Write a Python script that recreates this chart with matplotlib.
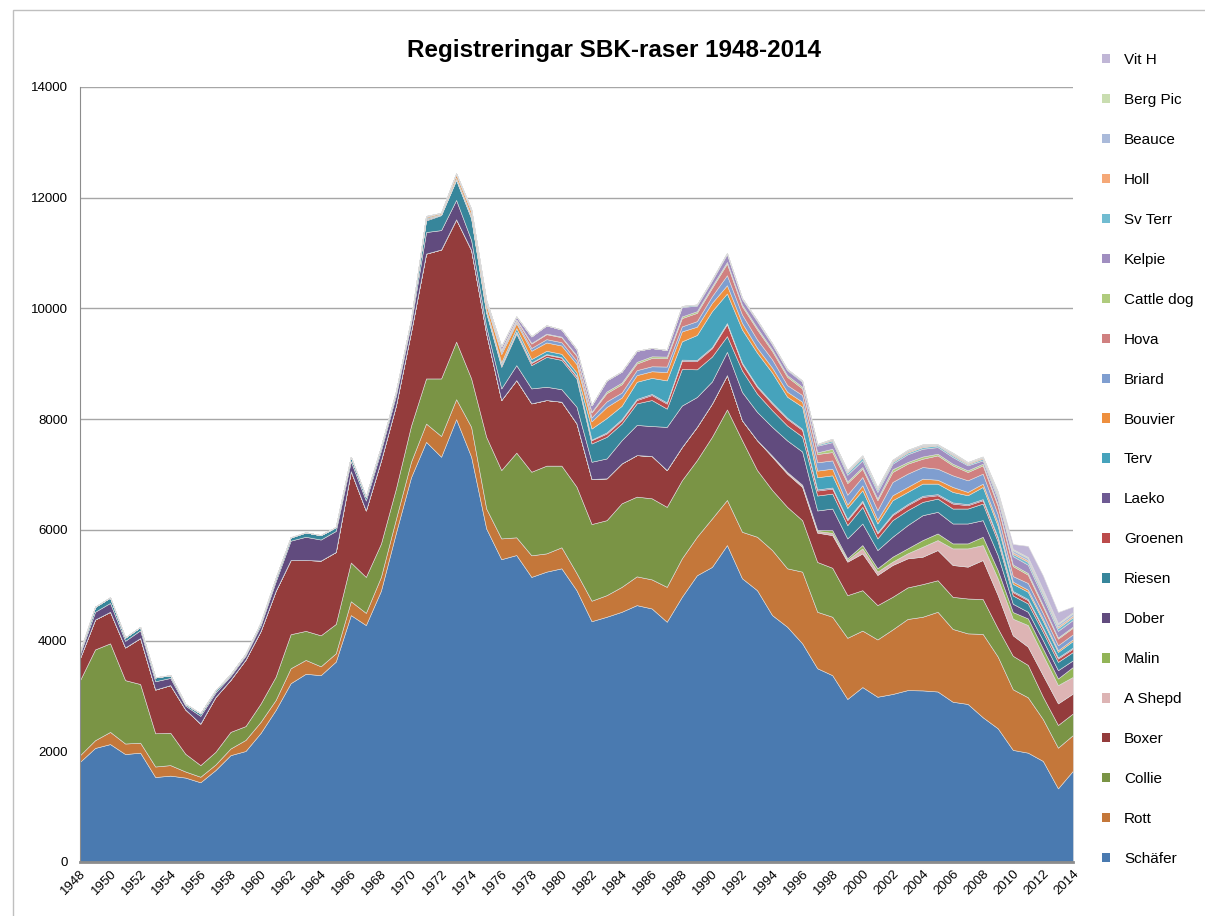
import matplotlib
matplotlib.use('Agg')
import matplotlib.pyplot as plt
from matplotlib.patches import Patch, Rectangle
import numpy as np

plt.rcParams['font.family'] = ['Liberation Sans', 'DejaVu Sans']

years = list(range(1948, 2015))

schafer = [1810, 2060, 2130, 1950, 1975, 1535, 1560, 1525, 1440, 1660, 1930, 2005, 2330, 2745, 3230, 3400, 3375, 3620, 4460, 4280,
           4900, 5950, 6950, 7590, 7320, 8000, 7320, 6025, 5470, 5545, 5150, 5245, 5305, 4910, 4350, 4430, 4520, 4640, 4580, 4340,
           4790, 5180, 5330, 5725, 5125, 4910, 4460, 4250, 3950, 3500, 3375, 2945, 3160, 2985, 3035, 3105, 3100, 3080, 2895, 2855,
           2615, 2415, 2025, 1975, 1825, 1330, 1650]
rott = [120, 140, 220, 190, 180, 190, 190, 110, 100, 100, 120, 200, 200, 180, 270, 250, 160, 150, 250, 220,
        250, 250, 280, 330, 375, 360, 540, 360, 375, 320, 390, 330, 380, 310, 370, 390, 450, 520, 525, 630,
        695, 695, 875, 815, 840, 965, 1175, 1055, 1295, 1020, 1055, 1105, 1020, 1035, 1165, 1285, 1330, 1440, 1315, 1275,
        1505, 1295, 1095, 1000, 755, 735, 645]
collie = [1355, 1640, 1600, 1145, 1060, 600, 585, 320, 210, 230, 300, 250, 330, 420, 615, 525, 560, 530, 700, 650,
          600, 550, 650, 815, 1040, 1040, 875, 1295, 1235, 1530, 1510, 1585, 1475, 1560, 1385, 1355, 1510, 1440, 1465, 1445,
          1410, 1385, 1475, 1635, 1655, 1205, 1085, 1110, 930, 900, 885, 770, 730, 620, 590, 570, 590, 570, 580, 630,
          630, 510, 605, 585, 405, 410, 390]
boxer = [400, 540, 570, 590, 830, 790, 860, 800, 750, 990, 940, 1200, 1310, 1550, 1340, 1280, 1350, 1300, 1650, 1200,
         1500, 1500, 1700, 2255, 2330, 2210, 2320, 1870, 1265, 1310, 1235, 1185, 1155, 1145, 815, 755, 720, 750, 765, 665,
         600, 600, 600, 620, 360, 540, 600, 600, 600, 530, 590, 605, 665, 545, 575, 525, 495, 545, 575, 575,
         705, 600, 370, 330, 390, 390, 360]
a_shepd = [0] * 46 + [20, 30, 30, 30, 40, 30, 90, 60, 60, 90, 180, 180, 300, 330, 270, 300, 300, 390, 360, 330, 300]
malin = [0] * 48 + [10, 20, 50, 30, 60, 60, 90, 90, 120, 120, 90, 90, 150, 150, 120, 120, 120, 120, 180]
dober = [70, 140, 160, 120, 140, 150, 130, 70, 140, 80, 70, 70, 100, 170, 350, 420, 380, 380, 180, 180,
         180, 180, 150, 390, 350, 350, 180, 120, 210, 270, 270, 240, 225, 300, 310, 360, 420, 545, 540, 780,
         750, 540, 400, 420, 510, 510, 520, 570, 600, 350, 390, 360, 390, 330, 360, 420, 450, 390, 360, 360,
         300, 270, 150, 120, 150, 150, 120]
riesen = [45, 90, 100, 60, 60, 70, 50, 30, 45, 40, 30, 30, 50, 60, 60, 80, 80, 70, 80, 70,
          70, 70, 70, 210, 270, 360, 390, 250, 390, 570, 420, 540, 530, 510, 330, 390, 300, 390, 470, 330,
          660, 500, 450, 285, 390, 330, 300, 270, 270, 270, 270, 240, 300, 210, 300, 270, 240, 240, 270, 270,
          300, 250, 150, 150, 150, 150, 150]
groenen = [0] * 23 + [20, 10, 10, 20, 20, 30, 30, 40, 40, 40, 40, 60, 60, 60, 60, 90, 90,
                      150, 150, 150, 215, 120, 120, 120, 120, 120, 90, 90, 90, 90, 90, 90, 90, 90, 60, 90, 60,
                      60, 60, 60, 60, 60, 60, 60]
laeko = [0] * 28 + [10, 10, 10, 10, 10, 10, 10, 20, 20, 20, 20, 20,
                    20, 20, 20, 20, 20, 20, 20, 20, 20, 20, 20, 20, 20, 20, 20, 20, 20, 20, 20, 20,
                    20, 20, 20, 20, 20, 20, 20]
terv = [0] * 23 + [20, 10, 30, 30, 40, 40, 60, 60, 60, 60, 60, 200, 260, 240, 310, 290, 400,
                   330, 450, 650, 535, 600, 600, 540, 380, 400, 220, 220, 200, 190, 160, 250, 220, 220, 190, 190, 160,
                   220, 200, 130, 130, 120, 100, 120]
bouvier = [0] * 23 + [20, 20, 60, 70, 90, 150, 90, 150, 150, 150, 150, 130, 200, 150, 120, 120, 150,
                      180, 150, 150, 150, 120, 90, 90, 90, 90, 120, 120, 60, 90, 70, 90, 90, 90, 70, 90, 60,
                      60, 60, 40, 40, 40, 30, 30]
briard = [0] * 23 + [20, 0, 20, 20, 30, 40, 30, 50, 60, 60, 60, 70, 100, 90, 90, 90, 100,
                     90, 100, 120, 180, 150, 150, 150, 120, 120, 150, 150, 180, 150, 170, 240, 240, 210, 200, 210, 210,
                     180, 150, 100, 120, 100, 90, 90]
hova = [0] * 26 + [10, 20, 30, 30, 80, 90, 90, 90, 90, 150, 150, 120, 150, 150,
                   150, 150, 150, 210, 150, 180, 150, 150, 120, 150, 150, 210, 150, 180, 180, 180, 150, 240, 180, 150,
                   150, 150, 180, 150, 120, 120, 120]
cattle_dog = [0] * 28 + [10, 10, 10, 10, 10, 10, 10, 30, 30, 30, 30, 30,
                         30, 30, 30, 30, 30, 30, 30, 30, 30, 30, 60, 30, 30, 30, 50, 30, 40, 30, 30, 30,
                         30, 30, 30, 30, 30, 20, 20]
kelpie = [0] * 26 + [20, 30, 60, 50, 120, 150, 130, 110, 120, 200, 200, 200, 150, 120,
                     170, 100, 100, 140, 100, 120, 90, 90, 90, 120, 120, 120, 120, 120, 100, 140, 140, 120, 120, 90,
                     60, 90, 150, 150, 140, 120, 120]
sv_terr = [0] * 40 + [20, 20, 20, 20, 20, 20, 20, 20, 20, 20, 30, 40, 50, 40, 30, 30, 30, 30, 30, 20,
                      30, 50, 40, 50, 50, 50, 50]
holl = [0] * 49 + [10, 20, 20, 20, 20, 20, 20, 20, 10, 20, 20, 20, 30, 30, 30, 30, 30, 30]
beauce = [0] * 50 + [10, 20, 20, 20, 20, 20, 20, 10, 20, 10, 10, 30, 40, 40, 40, 40, 40]
berg_pic = [0] * 55 + [10, 10, 0, 10, 10, 10, 20, 20, 20, 20, 20, 20]
vit_h = [0] * 61 + [20, 90, 200, 250, 200, 100]

names = ['Schäfer', 'Rott', 'Collie', 'Boxer', 'A Shepd', 'Malin', 'Dober', 'Riesen', 'Groenen', 'Laeko', 'Terv',
         'Bouvier', 'Briard', 'Hova', 'Cattle dog', 'Kelpie', 'Sv Terr', 'Holl', 'Beauce', 'Berg Pic', 'Vit H']
series = [schafer, rott, collie, boxer, a_shepd, malin, dober, riesen, groenen, laeko, terv,
          bouvier, briard, hova, cattle_dog, kelpie, sv_terr, holl, beauce, berg_pic, vit_h]
colors = ['#4A7AB0', '#C4773A', '#7A9445', '#943C3C', '#DDB4B4', '#92B457', '#614B7E', '#37869B', '#BC4B4B',
          '#6E5A93', '#46A3BC', '#EE8F3E', '#7F9ED0', '#D08080', '#AFCB7D', '#A08EC0', '#71BCD1', '#F5A877',
          '#AABADA', '#C9DDB0', '#C0B6D6']

fig = plt.figure(figsize=(12.05, 9.16), dpi=100)
ax = fig.add_axes([80 / 1205, 1 - 862 / 916, (1073 - 80) / 1205, (862 - 87) / 916])

ax.stackplot(years, np.array(series, dtype=float), colors=colors, edgecolor='#DCDCDC', linewidth=0.4)

ax.set_xlim(1948, 2014)
ax.set_ylim(0, 14000)
ax.set_yticks(range(0, 14001, 2000))
ax.set_xticks(range(1948, 2015, 2))
ax.set_xticklabels([str(y) for y in range(1948, 2015, 2)], rotation=45, ha='right',
                   rotation_mode='anchor', fontsize=9.5)
ax.tick_params(axis='y', labelsize=9.5, length=0, pad=9)
ax.tick_params(axis='x', length=0, pad=4)
ax.yaxis.grid(True, color='#A6A6A6', linewidth=1)
ax.set_axisbelow(True)
for s in ['top', 'right']:
    ax.spines[s].set_visible(False)
ax.spines['left'].set_color('#8C8C8C')
ax.spines['bottom'].set_color('#8C8C8C')
ax.spines['bottom'].set_linewidth(2)

fig.text(614 / 1205, 1 - 50 / 916, 'Registreringar SBK-raser 1948-2014', ha='center', va='center',
         fontsize=17.5, fontweight='bold')

handles = [Patch(facecolor=c, edgecolor='none') for c in colors][::-1]
fig.legend(handles, names[::-1], loc='upper left', bbox_to_anchor=(1088 / 1205, 1 - 39 / 916),
           frameon=False, fontsize=11, handlelength=0.55, handleheight=0.55, handletextpad=0.9,
           labelspacing=1.7)

fig.patches.append(Rectangle((13 / 1205, -0.05), 1.2, 1 - 10 / 916 + 0.05, transform=fig.transFigure,
                             fill=False, edgecolor='#BFBFBF', linewidth=1))

fig.savefig('out.png', dpi=100)
